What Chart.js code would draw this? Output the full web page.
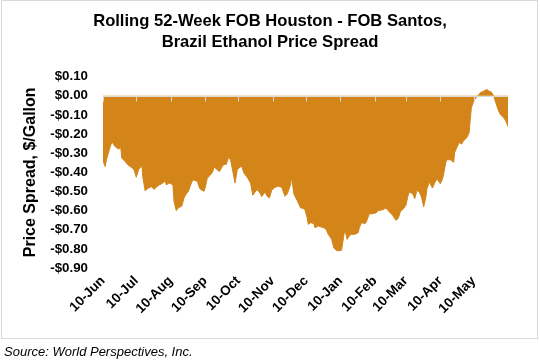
<!DOCTYPE html>
<html>
<head>
<meta charset="utf-8">
<script src="https://cdn.jsdelivr.net/npm/chart.js@4/dist/chart.umd.min.js"></script>
<style>
  html, body { margin: 0; padding: 0; background: #fff; }
  body { width: 540px; height: 364px; position: relative; overflow: hidden; }
  #frame {
    position: absolute; left: 1px; top: 0; width: 537px; height: 339px;
    box-sizing: border-box; border: 1px solid #d9d9d9;
  }
  #chart { position: absolute; left: 0; top: 0; }
  #source {
    position: absolute; left: 4px; top: 345px;
    font: italic 13px "Liberation Sans", Arial, sans-serif; line-height: 13px; color: #000;
  }
</style>
</head>
<body>
<div id="frame"></div>
<canvas id="chart" width="540" height="364"></canvas>
<div id="source">Source: World Perspectives, Inc.</div>
<script>
// days after 10-Jun
const days = [
  0, 2, 3, 6, 8, 11, 14, 16, 17, 20, 23, 26, 28, 30, 32, 35, 36, 38, 41, 44,
  46, 48, 51, 54, 56, 57, 60, 63, 64, 66, 68, 71, 73, 75, 77, 79, 81, 85, 87, 88,
  91, 92, 94, 97, 99, 100, 103, 105, 107, 109, 111, 113, 115, 117, 119, 121, 123, 125, 127, 130,
  133, 135, 137, 139, 142, 143, 146, 148, 150, 152, 155, 158, 161, 164, 166, 169, 170, 172, 175, 178,
  181, 182, 184, 185, 187, 190, 191, 194, 196, 199, 201, 203, 206, 208, 210, 212, 215, 217, 218, 220,
  222, 224, 227, 230, 231, 233, 236, 237, 240, 242, 246, 248, 252, 255, 257, 259, 261, 264, 266, 268,
  271, 273, 275, 276, 279, 281, 283, 285, 287, 289, 291, 292, 294, 297, 299, 301, 304, 306, 307, 309,
  310, 313, 316, 317, 319, 321, 323, 325, 328, 330, 331, 332, 334, 336, 338, 340, 343, 346, 348, 350,
  352, 354, 356, 358, 361, 363, 365
];

// FOB Houston - FOB Santos spread, $/gallon
const spread = [
  -0.34, -0.37, -0.335, -0.275, -0.24, -0.266, -0.278, -0.27, -0.326, -0.344,
  -0.364, -0.375, -0.387, -0.426, -0.387, -0.364, -0.43, -0.496, -0.482, -0.475,
  -0.49, -0.477, -0.465, -0.456, -0.444, -0.465, -0.456, -0.465, -0.551, -0.6,
  -0.585, -0.577, -0.534, -0.513, -0.499, -0.465, -0.439, -0.447, -0.482, -0.49,
  -0.499, -0.482, -0.43, -0.413, -0.396, -0.371, -0.387, -0.396, -0.375, -0.357,
  -0.36, -0.323, -0.335, -0.396, -0.456, -0.387, -0.375, -0.368, -0.404, -0.426,
  -0.456, -0.52, -0.503, -0.49, -0.513, -0.527, -0.503, -0.525, -0.534, -0.494,
  -0.478, -0.473, -0.478, -0.525, -0.513, -0.465, -0.426, -0.513, -0.547, -0.585,
  -0.59, -0.596, -0.637, -0.672, -0.663, -0.668, -0.689, -0.68, -0.685, -0.689,
  -0.698, -0.724, -0.75, -0.793, -0.807, -0.81, -0.807, -0.732, -0.698, -0.75,
  -0.732, -0.724, -0.724, -0.715, -0.689, -0.663, -0.668, -0.663, -0.617, -0.617,
  -0.612, -0.6, -0.596, -0.587, -0.6, -0.612, -0.624, -0.651, -0.641, -0.606,
  -0.589, -0.572, -0.52, -0.503, -0.511, -0.537, -0.494, -0.503, -0.528, -0.58,
  -0.528, -0.485, -0.451, -0.482, -0.454, -0.434, -0.46, -0.434, -0.408, -0.347,
  -0.334, -0.334, -0.347, -0.295, -0.269, -0.244, -0.252, -0.235, -0.218, -0.192,
  -0.123, -0.062, -0.028, -0.01, 0.0, 0.016, 0.024, 0.033, 0.024, 0.02,
  0.0, -0.036, -0.071, -0.097, -0.114, -0.131, -0.16
];

const tickDays = [0, 30, 61, 92, 122, 153, 183, 214, 245, 273, 304, 334];
const tickLabels = ['10-Jun', '10-Jul', '10-Aug', '10-Sep', '10-Oct', '10-Nov',
  '10-Dec', '10-Jan', '10-Feb', '10-Mar', '10-Apr', '10-May'];

const FONT = '"Liberation Sans", Arial, sans-serif';
const AREA = '#d3851a';

function money(v) {
  if (Math.abs(v) < 1e-9) return '$0.00';
  return (v < 0 ? '-$' : '$') + Math.abs(v).toFixed(2);
}

// gray zero line with small tick marks hanging down from it
const zeroAxis = {
  id: 'zeroAxis',
  afterDatasetsDraw(chart) {
    const { ctx, chartArea, scales: { x, y } } = chart;
    const y0 = Math.round(y.getPixelForValue(0)) + 0.5;
    ctx.save();
    ctx.strokeStyle = '#d9d9d9';
    ctx.lineWidth = 1;
    ctx.beginPath();
    ctx.moveTo(chartArea.left, y0);
    ctx.lineTo(chartArea.right, y0);
    tickDays.forEach((d) => {
      const px = Math.round(x.getPixelForValue(d)) + 0.5;
      ctx.moveTo(px, y0);
      ctx.lineTo(px, y0 + 5);
    });
    ctx.stroke();
    ctx.restore();
  },
};

new Chart(document.getElementById('chart'), {
  type: 'line',
  data: {
    datasets: [{
      data: days.map((d, i) => ({ x: d, y: spread[i] })),
      fill: 'origin',
      backgroundColor: AREA,
      borderColor: AREA,
      borderWidth: 1,
      pointRadius: 0,
      tension: 0,
    }],
  },
  options: {
    responsive: false,
    animation: false,
    devicePixelRatio: 1,
    layout: { padding: 0 },
    plugins: {
      legend: { display: false },
      tooltip: { enabled: false },
      title: {
        display: true,
        text: ['Rolling 52-Week FOB Houston - FOB Santos,', 'Brazil Ethanol Price Spread'],
        color: '#000',
        font: { family: FONT, size: 16.6, weight: 'bold', lineHeight: 1.27 },
        padding: { top: 10.5, bottom: 24 },
      },
    },
    scales: {
      x: {
        type: 'linear',
        min: 0,
        max: 365,
        grid: { display: false, drawTicks: false },
        border: { display: false },
        afterBuildTicks: (scale) => {
          scale.ticks = tickDays.map((v) => ({ value: v }));
        },
        afterFit: (scale) => { scale.height = 96; },
        ticks: {
          autoSkip: false,
          minRotation: 45,
          maxRotation: 45,
          padding: 5,
          color: '#000',
          font: { family: FONT, size: 13.5, weight: 'bold' },
          callback: (v) => tickLabels[tickDays.indexOf(v)],
        },
      },
      y: {
        min: -0.9,
        max: 0.1,
        grid: { display: false, drawTicks: false },
        border: { display: false },
        afterFit: (scale) => { scale.width = 103; },
        ticks: {
          stepSize: 0.1,
          padding: 15,
          color: '#000',
          font: { family: FONT, size: 13.3, weight: 'bold' },
          callback: (v) => money(v),
        },
        title: {
          display: true,
          text: 'Price Spread, $/Gallon',
          color: '#000',
          font: { family: FONT, size: 16, weight: 'bold' },
          padding: { top: 21, bottom: 0 },
        },
      },
      // empty right-hand axis that only reserves the blank margin
      yRight: {
        position: 'right',
        grid: { display: false, drawTicks: false },
        border: { display: false },
        ticks: { display: false },
        afterFit: (scale) => { scale.width = 32; },
      },
    },
  },
  plugins: [zeroAxis],
});
</script>
</body>
</html>
